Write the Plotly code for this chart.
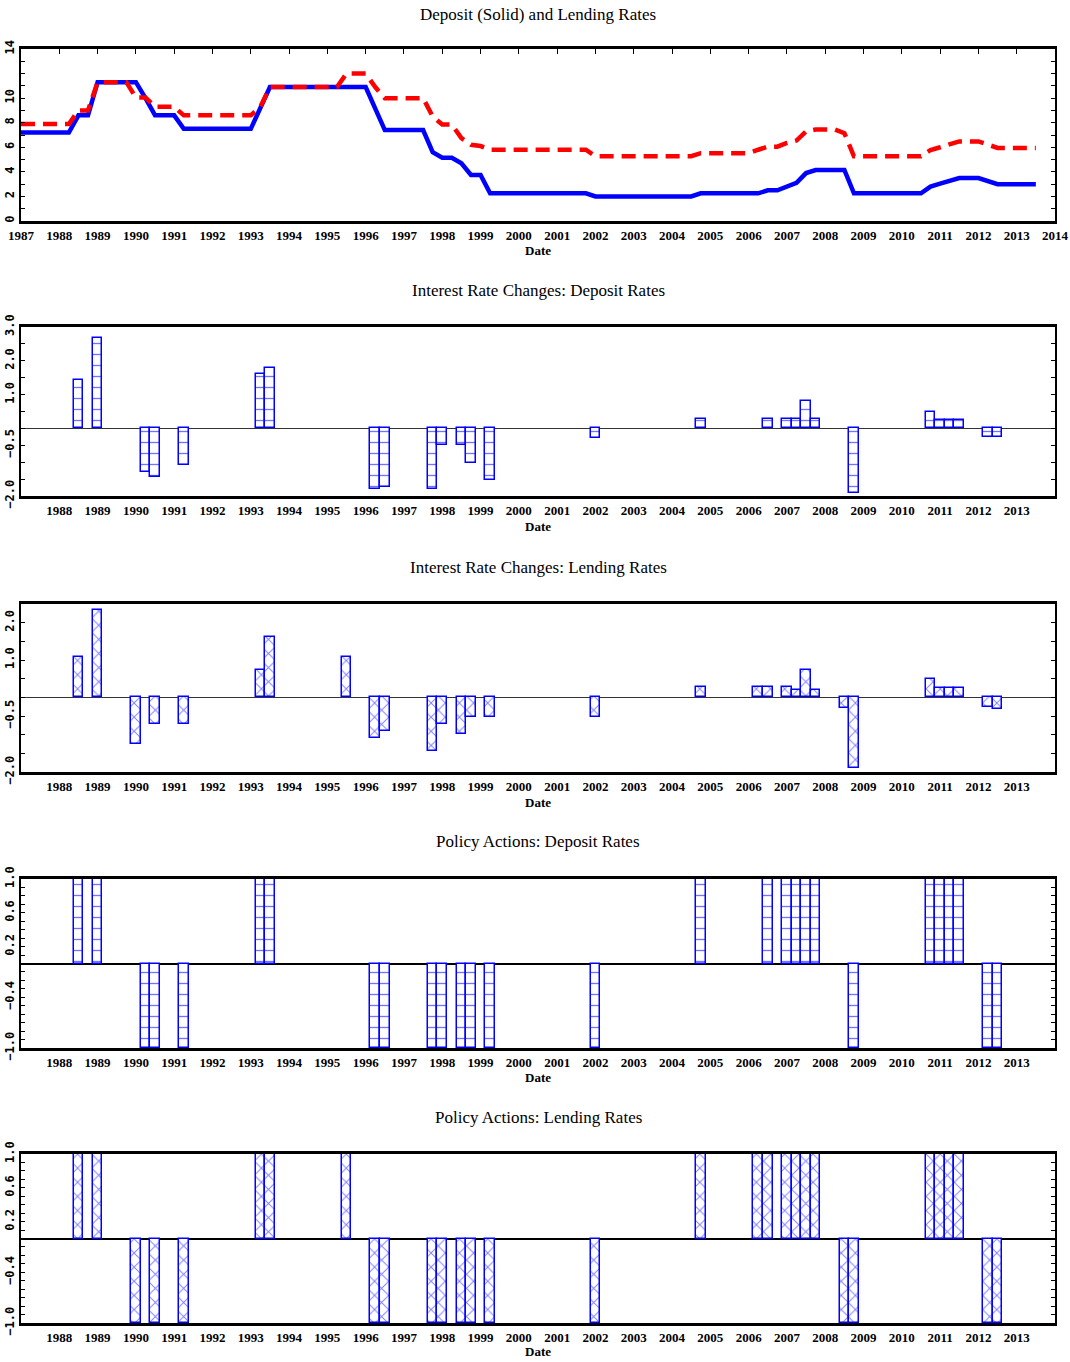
import plotly.graph_objects as go

# ---------------- data ----------------
dep_dates = [1987.0, 1988.25, 1988.5, 1988.75, 1989.0, 1990.0, 1990.25, 1990.5, 1991.0, 1991.25,
             1993.0, 1993.25, 1993.5, 1996.0, 1996.25, 1996.5, 1997.5, 1997.75, 1998.0, 1998.25,
             1998.5, 1998.75, 1999.0, 1999.25, 2001.75, 2002.0, 2004.5, 2004.75, 2006.25, 2006.5,
             2006.75, 2007.0, 2007.25, 2007.5, 2007.75, 2008.5, 2008.75, 2010.5, 2010.75, 2011.0,
             2011.25, 2011.5, 2012.0, 2012.25, 2012.5, 2013.5]
dep_rate = [7.2, 7.2, 8.6, 8.6, 11.3, 11.3, 10.0, 8.6, 8.6, 7.5,
            7.5, 9.1, 10.9, 10.9, 9.1, 7.4, 7.4, 5.6, 5.15, 5.15,
            4.7, 3.75, 3.75, 2.25, 2.25, 2.0, 2.0, 2.25, 2.25, 2.5,
            2.5, 2.8, 3.1, 3.9, 4.15, 4.15, 2.25, 2.25, 2.8, 3.05,
            3.3, 3.5, 3.5, 3.25, 3.0, 3.0]

lend_dates = [1987.0, 1988.25, 1988.5, 1988.75, 1989.0, 1989.75, 1990.0, 1990.25, 1990.5, 1991.0,
              1991.25, 1993.0, 1993.25, 1993.5, 1995.25, 1995.5, 1996.0, 1996.25, 1996.5, 1997.5,
              1997.75, 1998.0, 1998.25, 1998.5, 1998.75, 1999.0, 1999.25, 2001.75, 2002.0, 2004.5,
              2004.75, 2006.0, 2006.25, 2006.5, 2006.75, 2007.0, 2007.25, 2007.5, 2007.75, 2008.25,
              2008.5, 2008.75, 2010.5, 2010.75, 2011.0, 2011.25, 2011.5, 2012.0, 2012.25, 2012.5,
              2013.5]
lend_rate = [7.9, 7.9, 9.0, 9.0, 11.3, 11.3, 10.05, 10.05, 9.3, 9.3,
             8.6, 8.6, 9.3, 10.9, 10.9, 12.0, 12.0, 10.9, 10.0, 10.0,
             8.5, 7.85, 7.85, 6.75, 6.2, 6.1, 5.8, 5.8, 5.27, 5.27,
             5.52, 5.52, 5.8, 6.05, 6.05, 6.35, 6.55, 7.3, 7.45, 7.45,
             7.15, 5.27, 5.27, 5.78, 6.0, 6.25, 6.48, 6.48, 6.23, 5.95,
             5.95]

dep_chg_dates = [1988.5, 1989.0, 1990.25, 1990.5, 1991.25, 1993.25, 1993.5, 1996.25, 1996.5, 1997.75,
                 1998.0, 1998.5, 1998.75, 1999.25, 2002.0, 2004.75, 2006.5, 2007.0, 2007.25, 2007.5,
                 2007.75, 2008.75, 2010.75, 2011.0, 2011.25, 2011.5, 2012.25, 2012.5]
dep_chg = [1.42, 2.68, -1.28, -1.45, -1.09, 1.60, 1.78, -1.80, -1.72, -1.80,
           -0.48, -0.48, -1.01, -1.54, -0.28, 0.27, 0.27, 0.27, 0.27, 0.81,
           0.27, -1.90, 0.50, 0.25, 0.25, 0.25, -0.26, -0.26]
dep_policy = [1, 1, -1, -1, -1, 1, 1, -1, -1, -1,
              -1, -1, -1, -1, -1, 1, 1, 1, 1, 1,
              1, -1, 1, 1, 1, 1, -1, -1]

lend_chg_dates = [1988.5, 1989.0, 1990.0, 1990.5, 1991.25, 1993.25, 1993.5, 1995.5, 1996.25, 1996.5,
                  1997.75, 1998.0, 1998.5, 1998.75, 1999.25, 2002.0, 2004.75, 2006.25, 2006.5, 2007.0,
                  2007.25, 2007.5, 2007.75, 2008.5, 2008.75, 2010.75, 2011.0, 2011.25, 2011.5, 2012.25,
                  2012.5]
lend_chg = [1.09, 2.33, -1.26, -0.72, -0.72, 0.72, 1.61, 1.09, -1.09, -0.91,
            -1.45, -0.72, -0.99, -0.54, -0.54, -0.54, 0.28, 0.28, 0.28, 0.28,
            0.19, 0.72, 0.19, -0.29, -1.90, 0.49, 0.24, 0.24, 0.24, -0.25,
            -0.31]
lend_policy = [1, 1, -1, -1, -1, 1, 1, 1, -1, -1,
               -1, -1, -1, -1, -1, -1, 1, 1, 1, 1,
               1, 1, 1, -1, -1, 1, 1, 1, 1, -1,
               -1]

titles = ["Deposit (Solid) and Lending Rates",
          "Interest Rate Changes: Deposit Rates",
          "Interest Rate Changes: Lending Rates",
          "Policy Actions: Deposit Rates",
          "Policy Actions: Lending Rates"]

years_top = list(range(1987, 2015))
years_low = list(range(1988, 2014))

# y tick labels per panel
p1_ticks = [0, 2, 4, 6, 8, 10, 14]
p2_ticks = [-2.0, -0.5, 1.0, 2.0, 3.0]
p3_ticks = [-2.0, -0.5, 1.0, 2.0]
p45_ticks = [-1.0, -0.4, 0.2, 0.6, 1.0]

# ---------------- layout geometry (page pixels) ----------------
W, H = 1070, 1362
X0, X1 = 21, 1055
panels_px = [(49, 221), (327, 496), (604, 772), (879, 1048), (1154, 1323)]
title_px = [15, 290, 567, 841, 1117]
date_px = [251, 526, 802, 1077, 1351]


def px(p):
    return p / W


def py(p):
    return 1 - p / H


def fmt(v):
    s = f"{abs(v):.1f}"
    return ("\u2212" + s) if v < 0 else s


fig = go.Figure()

BLUE = "#0000ff"
RED = "#ff0000"

# Panel 1 lines
fig.add_trace(go.Scatter(x=dep_dates, y=dep_rate, mode="lines",
                         line=dict(color=BLUE, width=4.5), xaxis="x", yaxis="y",
                         showlegend=False))
fig.add_trace(go.Scatter(x=lend_dates, y=lend_rate, mode="lines",
                         line=dict(color=RED, width=4.5, dash="14px,8px"), xaxis="x", yaxis="y",
                         showlegend=False))

dot_pat = dict(shape="-", fgcolor=BLUE, bgcolor="white", size=11, solidity=0.12, fgopacity=0.55)
x_pat = dict(shape="x", fgcolor=BLUE, bgcolor="white", size=10, solidity=0.18)

bar_common = dict(width=0.25, showlegend=False)

fig.add_trace(go.Bar(x=dep_chg_dates, y=dep_chg, xaxis="x2", yaxis="y2",
                     marker=dict(color="white", line=dict(color=BLUE, width=1.5), pattern=dot_pat),
                     **bar_common))
fig.add_trace(go.Bar(x=lend_chg_dates, y=lend_chg, xaxis="x3", yaxis="y3",
                     marker=dict(color="white", line=dict(color=BLUE, width=1.5), pattern=x_pat),
                     **bar_common))
fig.add_trace(go.Bar(x=dep_chg_dates, y=dep_policy, xaxis="x4", yaxis="y4",
                     marker=dict(color="white", line=dict(color=BLUE, width=1.5), pattern=dot_pat),
                     **bar_common))
fig.add_trace(go.Bar(x=lend_chg_dates, y=lend_policy, xaxis="x5", yaxis="y5",
                     marker=dict(color="white", line=dict(color=BLUE, width=1.5), pattern=x_pat),
                     **bar_common))

tick_font = dict(family="Liberation Serif", size=13, color="black", weight="bold")
ytick_font = dict(family="DejaVu Sans Mono", size=12, color="black", weight="bold")

layout = dict(
    width=W, height=H, margin=dict(l=0, r=0, t=0, b=0, pad=0, autoexpand=False),
    paper_bgcolor="white", plot_bgcolor="white", bargap=0, showlegend=False,
)

yranges = [[0, 14], [-2.0, 3.0], [-2.0, 2.5], [-1.0, 1.0], [-1.0, 1.0]]
yticks = [p1_ticks, p2_ticks, p3_ticks, p45_ticks, p45_ticks]
ytexts = [[str(v) for v in p1_ticks], [fmt(v) for v in p2_ticks], [fmt(v) for v in p3_ticks],
          [fmt(v) for v in p45_ticks], [fmt(v) for v in p45_ticks]]
minor_dt = [1, 0.5, 0.5, 0.1, 0.1]

for i in range(5):
    n = "" if i == 0 else str(i + 1)
    top, bot = panels_px[i]
    xt = years_top if i == 0 else years_low
    layout["xaxis" + n] = dict(
        domain=[px(X0), px(X1)], range=[1987, 2014], anchor="y" + n, automargin=False,
        tickmode="array", tickvals=xt, ticktext=[str(v) for v in xt],
        ticks="", showgrid=False, zeroline=False,
        showline=True, linecolor="black", linewidth=3, mirror=True,
        tickfont=tick_font,
    )
    layout["yaxis" + n] = dict(
        domain=[py(bot), py(top)], range=yranges[i], anchor="x" + n, automargin=False,
        tickmode="array", tickvals=yticks[i], ticktext=ytexts[i], tickangle=-90,
        ticks="inside", ticklen=4, tickcolor="black", tickwidth=1,
        minor=dict(dtick=minor_dt[i], tick0=0, ticks="inside", ticklen=4, tickcolor="black", tickwidth=1),
        showgrid=False,
        zeroline=(i > 0), zerolinecolor=("#333333" if i in (1, 2) else "black"),
        zerolinewidth=(1 if i in (1, 2) else 2),
        showline=True, linecolor="black", linewidth=2, mirror="ticks",
        tickfont=ytick_font,
    )

# top ticks on first panel
layout["xaxis6"] = dict(
    domain=[px(X0), px(X1)], range=[1987, 2014], overlaying="x", anchor="y", side="top",
    automargin=False,
    tickmode="array", tickvals=years_top, showticklabels=False,
    ticks="inside", ticklen=5, tickcolor="black", showgrid=False, zeroline=False, showline=False,
)
fig.add_trace(go.Scatter(x=[1987, 2014], y=[None, None], xaxis="x6", yaxis="y",
                         mode="lines", showlegend=False, hoverinfo="skip"))

annotations = []
for i in range(5):
    annotations.append(dict(text=titles[i], x=px((X0 + X1) / 2), y=py(title_px[i]),
                            xref="paper", yref="paper", showarrow=False,
                            xanchor="center", yanchor="middle",
                            font=dict(family="Liberation Serif", size=17, color="black")))
    annotations.append(dict(text="Date", x=px((X0 + X1) / 2), y=py(date_px[i]),
                            xref="paper", yref="paper", showarrow=False,
                            xanchor="center", yanchor="middle",
                            font=dict(family="Liberation Serif", size=13, color="black",
                                      weight="bold")))
layout["annotations"] = annotations

fig.update_layout(**layout)
fig.write_html("out.html", config={"responsive": False, "displayModeBar": False},
               post_script="document.body.style.margin='0';document.body.style.overflow='hidden';")
